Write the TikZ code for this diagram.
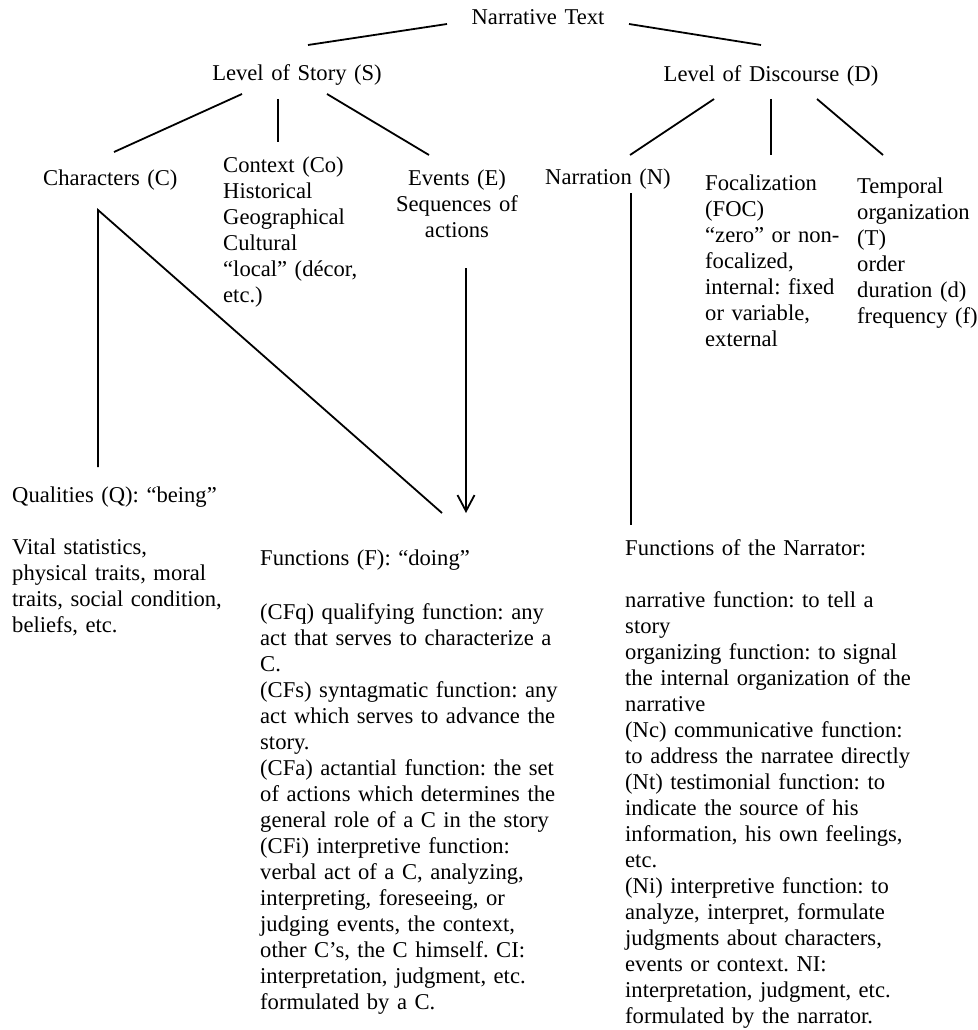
\documentclass[tikz,border=0pt]{standalone}
\usepackage{fontspec}
\setmainfont{Liberation Serif}
\usetikzlibrary{arrows.meta}
\frenchspacing

\begin{document}
\begin{tikzpicture}[x=1pt, y=-1pt,
        entry/.style={inner sep=0pt, anchor=base west, align=left,
            text width=#1, font=\fontsize{22.6}{26}\selectfont},
        entry/.default=340pt,
        centred/.style={entry=240pt, anchor=base, align=center},
        branch/.style={line width=1.8pt}]
    \useasboundingbox (0,0) rectangle (977,1030);

    % the two levels
    \node[centred] (text) at (538,25) {Narrative Text};
    \node[centred] (story) at (297,81) {Level of Story (S)};
    \node[centred] (discourse) at (771,82) {Level of Discourse (D)};

    % story branches
    \node[entry] (characters) at (43,185) {Characters (C)};
    \node[entry] (context) at (223,172) {Context (Co)\\Historical\\Geographical\\Cultural\\“local” (décor,\\etc.)};
    \node[centred] (events) at (457,185) {Events (E)\\Sequences of\\actions};

    % discourse branches
    \node[entry] (narration) at (545,184) {Narration (N)};
    \node[entry] (focal) at (705,190) {Focalization\\(FOC)\\“zero” or non-\\focalized,\\internal: fixed\\or variable,\\external};
    \node[entry] (temporal) at (857,193) {Temporal\\organization\\(T)\\order\\duration (d)\\frequency (f)};

    % bottom blocks
    \node[entry] (qualities) at (12,502) {Qualities (Q): “being”\\[26pt]
        Vital statistics,\\physical traits, moral\\traits, social condition,\\beliefs, etc.};
    \node[entry] (functions) at (260,565) {Functions (F): “doing”\\[28pt]
        (CFq) qualifying function: any\\act that serves to characterize a\\C.\\
        (CFs) syntagmatic function: any\\act which serves to advance the\\story.\\
        (CFa) actantial function: the set\\of actions which determines the\\general role of a C in the story\\
        (CFi) interpretive function:\\verbal act of a C, analyzing,\\interpreting, foreseeing, or\\judging events, the context,\\other C’s, the C himself. CI:\\interpretation, judgment, etc.\\formulated by a C.};
    \node[entry] (narrator) at (625,555) {Functions of the Narrator:\\[26pt]
        narrative function: to tell a\\story\\
        organizing function: to signal\\the internal organization of the\\narrative\\
        (Nc) communicative function:\\to address the narratee directly\\
        (Nt) testimonial function: to\\indicate the source of his\\information, his own feelings,\\etc.\\
        (Ni) interpretive function: to\\analyze, interpret, formulate\\judgments about characters,\\events or context. NI:\\interpretation, judgment, etc.\\formulated by the narrator.};

    % line ends
    \coordinate (text-l) at (447,24);
    \coordinate (text-r) at (629,24);
    \coordinate (story-t) at (308,45);
    \coordinate (discourse-t) at (761,45);
    \coordinate (story-l) at (242,94);
    \coordinate (story-m) at (278,99);
    \coordinate (story-r) at (327,94);
    \coordinate (characters-t) at (114,152);
    \coordinate (context-t) at (278,142);
    \coordinate (events-t) at (429,155);
    \coordinate (discourse-l) at (714,99);
    \coordinate (discourse-m) at (771,99);
    \coordinate (discourse-r) at (817,99);
    \coordinate (narration-t) at (630,155);
    \coordinate (focal-t) at (771,155);
    \coordinate (temporal-t) at (883,155);
    \coordinate (characters-b) at (98,210);
    \coordinate (qualities-t) at (98,467);
    \coordinate (functions-t) at (442,513);
    \coordinate (events-b) at (466,268);
    \coordinate (functions-tr) at (466,513);
    \coordinate (narration-b) at (631,193);
    \coordinate (narrator-t) at (631,525);

    \draw[branch] (text-l) -- (story-t);
    \draw[branch] (text-r) -- (discourse-t);
    \draw[branch] (story-l) -- (characters-t);
    \draw[branch] (story-m) -- (context-t);
    \draw[branch] (story-r) -- (events-t);
    \draw[branch] (discourse-l) -- (narration-t);
    \draw[branch] (discourse-m) -- (focal-t);
    \draw[branch] (discourse-r) -- (temporal-t);
    \draw[branch] (qualities-t) -- (characters-b) -- (functions-t);
    \draw[branch, -{Straight Barb[length=16pt, width=17pt]}] (events-b) -- (functions-tr);
    \draw[branch] (narration-b) -- (narrator-t);
\end{tikzpicture}
\end{document}
